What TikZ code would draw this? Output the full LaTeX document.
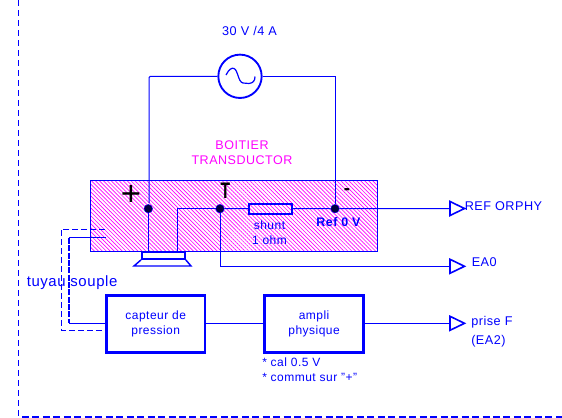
\documentclass[tikz,border=0pt]{standalone}
\usepackage{fontspec}
\usepackage{graphicx}
\setmainfont[LetterSpace=4]{Liberation Sans}
\usetikzlibrary{patterns.meta}
\definecolor{bl}{RGB}{0,0,255}
\definecolor{mg}{RGB}{255,0,255}
\definecolor{dk}{RGB}{0,0,64}
\tikzset{
  x=0.75pt,y=-0.75pt,
  wire/.style={draw=bl,line width=0.75pt},
  blockbox/.style={draw=bl,line width=2.1pt,minimum width=75pt,minimum height=43pt,inner sep=0pt,align=center,text=bl,font=\fontsize{9}{11}\selectfont,anchor=north west},
  junction/.style={circle,fill=dk,draw=bl,line width=0.3pt,minimum size=6.4pt,inner sep=0pt},
  lbl/.style={text=bl,inner sep=0pt,font=\fontsize{9.5}{11.5}\selectfont,align=left},
  tip/.style={draw=bl,line width=1.2pt,line join=miter},
}
\begin{document}
\begin{tikzpicture}
\useasboundingbox (0,0) rectangle (562,418);
% outer frame
\draw[bl,line width=0.9pt,dash pattern=on 4.5pt off 3pt] (18.5,0) -- (18.5,417);
\draw[bl,line width=1.5pt,dash pattern=on 5.25pt off 2.6pt] (22,417) -- (562,417);
% box
\node[draw=bl,line width=0.75pt,minimum width=215pt,minimum height=52.9pt,inner sep=0pt,anchor=north west,
  pattern={Lines[angle=-45,distance=2.1pt,line width=0.5pt]},pattern color=mg] (boitier) at (90.5,180.5) {};
% source
\node[circle,draw=bl,line width=1.4pt,minimum size=32.5pt,inner sep=0pt] (src) at (240,76.3) {};
\draw[bl,line width=0.9pt] (226,75) .. controls (229,69) and (232,67.5) .. (234,68.5) .. controls (238,70) and (238,82) .. (243,83) -- (249,83.5) .. controls (253,83) and (255,81) .. (255,76.5);
\node[lbl] (vlab) at (249.5,31) {30 V /4 A};
\node[lbl,text=mg,align=center,font=\fontsize{9.4}{11.3}\selectfont] (tlab) at (242,152.5) {BOITIER\\TRANSDUCTOR};
% junctions
\node[junction] (j1) at (148.3,208.7) {};
\node[junction] (j2) at (220,208.7) {};
\node[junction] (j3) at (335,208.7) {};
% shunt
\node[draw=bl,line width=1.4pt,minimum width=32.5pt,minimum height=7.5pt,inner sep=0pt,anchor=north west] (shunt) at (248,202.7) {};
% speaker
\node[draw=bl,line width=1.4pt,minimum width=32.2pt,minimum height=5.5pt,inner sep=0pt,anchor=north west] (spk) at (141,250.7) {};
\draw[bl,line width=1.1pt] (spk.south west) -- (134,266) -- (191,266) -- (spk.south east);
% wires
\coordinate (s1) at (177.5,250.7);
\draw[wire,rounded corners=1pt] (src.west) -- (149,76.3) -- (149,203);
\draw[wire] (j1) -- (j1 |- spk.north);
\draw[wire] (s1) |- (j2);
\draw[wire] (j2) -- (shunt.west);
\draw[wire] (shunt.east) -- (j3);
\draw[wire] (src.east) -| (j3.north);
% ports
\coordinate (pr) at (450,208.5);
\coordinate (pe) at (450,266.3);
\coordinate (pf) at (450,323.3);
\draw[wire] (j3) -- (pr);
\draw[wire] (j2) |- (pe);
\foreach \p in {pr,pe,pf}
  \draw[tip] (\p) ++(0,-7) -- ++(14.5,7) -- ++(-14.5,7) -- cycle;
% blocks
\node[blockbox,minimum width=74pt] (cap) at (105,294) {capteur de\\pression};
\node[blockbox,minimum width=74.5pt] (amp) at (263,294) {ampli\\physique};
\coordinate (c1) at (cap.west |- 0,323.3);
\coordinate (c2) at (amp.west |- 0,323.3);
\coordinate (c3) at (amp.east |- 0,323.3);
\draw[wire] (cap.east |- 0,323.3) -- (c2);
\draw[wire] (c3) -- (pf);
% tubes
\coordinate (to1) at (105,229.3);
\coordinate (to2) at (105,330);
\coordinate (ti1) at (105.5,237.3);
\draw[bl,line width=0.75pt,dash pattern=on 4.5pt off 2.2pt] (to1) -| (61.5,330) -- (to2);
\draw[wire] (ti1) -| (69,241);
\draw[bl,line width=1.5pt,dash pattern=on 4.5pt off 1pt] (69,238) -- (69,323.3);
\draw[wire] (69,323.3) -- (c1);
% labels
\node[lbl,anchor=west,font=\fontsize{11.2}{13}\selectfont] (tuyau) at (26.5,283) {tuyau souple};
\node[lbl,anchor=west] at (464.5,206.5) {REF ORPHY};
\node[lbl,anchor=west] at (471.5,262.5) {EA0};
\node[lbl,anchor=north west,font=\fontsize{9.5}{14.5}\selectfont] at (471,316) {prise F\\(EA2)};
\node[lbl,anchor=north west,font=\fontsize{9}{11.2}\selectfont] at (262,357.5) {* cal 0.5 V\\* commut sur "+"};
\node[lbl,align=center,font=\fontsize{9}{11.2}\selectfont] at (269.5,232.5) {shunt\\1 ohm};
\node[lbl,font=\bfseries\fontsize{9.3}{11}\selectfont] at (338.5,222) {Ref 0 V};
\node[inner sep=0pt,font=\fontsize{26}{26}\selectfont] at (131,195) {+};
\node[inner sep=0pt,font=\bfseries\fontsize{13}{13}\selectfont] at (225.5,191) {\scalebox{0.9}[1.3]{T}};
\node[inner sep=0pt,font=\bfseries\fontsize{14}{14}\selectfont] at (347,192) {-};
\end{tikzpicture}
\end{document}
